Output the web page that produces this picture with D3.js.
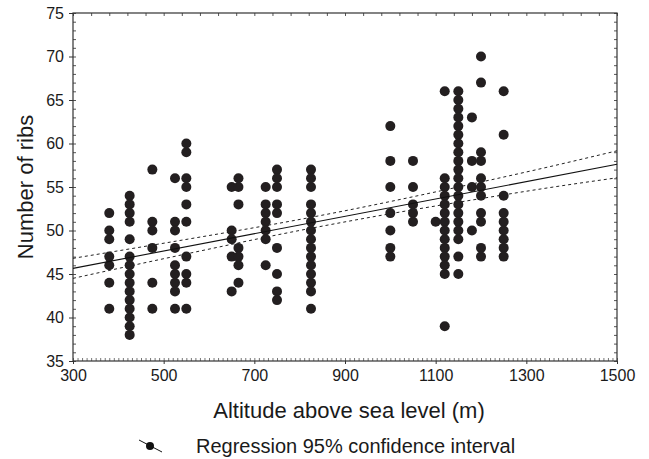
<!DOCTYPE html>
<html>
<head>
<meta charset="utf-8">
<script src="https://cdn.jsdelivr.net/npm/d3@7"></script>
<style>
  body { margin: 0; background: #fff; }
  text { font-family: "Liberation Sans", Arial, sans-serif; fill: #1a1a1a; }
</style>
</head>
<body>
<svg id="chart"></svg>
<script>
// altitude of each sampling site (m) and the rib counts observed there
var altitudes = [380, 425, 475, 525, 550, 650, 665, 725, 750, 825, 1000, 1050, 1100, 1120, 1150, 1180, 1200, 1250];
var ribs = [
    [52, 50, 49, 47, 46, 44, 41],
    [54, 53, 52, 51, 49, 47, 46, 45, 44, 43, 42, 41, 40, 39, 38],
    [57, 51, 50, 48, 44, 41],
    [56, 51, 50, 48, 46, 45, 44, 43, 41],
    [60, 59, 56, 55, 53, 51, 47, 45, 44, 41],
    [55, 50, 49, 47, 43],
    [56, 55, 53, 48, 47, 46, 44],
    [55, 53, 52, 51, 50, 49, 46],
    [57, 56, 55, 53, 52, 48, 45, 43, 42],
    [57, 56, 55, 53, 52, 51, 50, 49, 48, 47, 46, 45, 44, 43, 41],
    [62, 58, 55, 52, 50, 48, 47],
    [58, 55, 53, 52, 51],
    [51],
    [66, 56, 55, 54, 53, 52, 51, 50, 49, 48, 47, 46, 45, 39],
    [66, 65, 64, 63, 62, 61, 60, 59, 58, 57, 56, 55, 54, 53, 52, 51, 50, 49, 47, 45],
    [63, 58, 55, 50],
    [70, 67, 59, 58, 56, 55, 54, 52, 51, 48, 47],
    [66, 61, 54, 52, 51, 50, 49, 48, 47]
];

// regression line and its 95% confidence band
var fitX = [300, 1500];
var fitY = [45.65, 57.61];
var bandX = [300, 450, 600, 750, 900, 1050, 1200, 1350, 1500];
var bandUpper = [46.80, 48.10, 49.42, 50.79, 52.27, 53.88, 55.57, 57.32, 59.16];
var bandLower = [44.50, 46.20, 47.86, 49.49, 50.99, 52.38, 53.67, 54.92, 56.06];

var xTicks = [300, 500, 700, 900, 1100, 1300, 1500];
var yTicks = [35, 40, 45, 50, 55, 60, 65, 70, 75];

var W = 649, H = 459;
var margin = {top: 13, right: 32, bottom: 98, left: 73},
    width = W - margin.left - margin.right,
    height = H - margin.top - margin.bottom;

var svg = d3.select("#chart")
    .attr("width", W)
    .attr("height", H);

var g = svg.append("g")
    .attr("transform", "translate(" + margin.left + "," + margin.top + ")");

var x = d3.scaleLinear().domain([300, 1500]).range([0, width]);
var y = d3.scaleLinear().domain([35, 75]).range([height, 0]);

// minor ticks on all four sides (inward)
g.append("g")
    .attr("transform", "translate(0," + height + ")")
    .call(d3.axisTop(x).tickValues(d3.range(300, 1501, 10)).tickSize(3).tickFormat(""))
    .call(function(a) { a.select(".domain").remove(); a.selectAll("line").attr("stroke", "#777"); });
g.append("g")
    .call(d3.axisBottom(x).tickValues(d3.range(300, 1501, 40)).tickSize(3).tickFormat(""))
    .call(function(a) { a.select(".domain").remove(); a.selectAll("line").attr("stroke", "#555"); });
g.append("g")
    .call(d3.axisRight(y).tickValues(d3.range(35, 76, 1)).tickSize(3).tickFormat(""))
    .call(function(a) { a.select(".domain").remove(); a.selectAll("line").attr("stroke", "#555"); });
g.append("g")
    .attr("transform", "translate(" + width + ",0)")
    .call(d3.axisLeft(y).tickValues(d3.range(35, 76, 1)).tickSize(3).tickFormat(""))
    .call(function(a) { a.select(".domain").remove(); a.selectAll("line").attr("stroke", "#555"); });

// main axes with labels
var xAxis = g.append("g")
    .attr("transform", "translate(0," + height + ")")
    .call(d3.axisBottom(x).tickValues(xTicks).tickSize(3).tickPadding(6).tickFormat(d3.format("d")));
var yAxis = g.append("g")
    .call(d3.axisLeft(y).tickValues(yTicks).tickSize(4).tickPadding(5).tickFormat(d3.format("d")));
[xAxis, yAxis].forEach(function(a) {
    a.select(".domain").remove();
    a.selectAll("line").attr("stroke", "#333");
    a.selectAll("text").style("font-size", "16px").attr("fill", "#1a1a1a");
});

// frame
g.append("rect")
    .attr("width", width)
    .attr("height", height)
    .attr("fill", "none")
    .attr("stroke", "#333")
    .attr("stroke-width", 1.2);

// points
var points = [];
altitudes.forEach(function(a, i) {
    ribs[i].forEach(function(r) { points.push({alt: a, ribs: r}); });
});
g.selectAll("circle.pt")
    .data(points)
    .enter().append("circle")
    .attr("class", "pt")
    .attr("cx", function(d) { return x(d.alt); })
    .attr("cy", function(d) { return y(d.ribs); })
    .attr("r", 5)
    .attr("fill", "#231f20");

// regression line + confidence band
g.append("path")
    .datum(fitX.map(function(v, i) { return [v, fitY[i]]; }))
    .attr("fill", "none")
    .attr("stroke", "#111")
    .attr("stroke-width", 1.1)
    .attr("d", d3.line().x(function(d) { return x(d[0]); }).y(function(d) { return y(d[1]); }));

var bandLine = d3.line()
    .curve(d3.curveNatural)
    .x(function(d) { return x(d[0]); })
    .y(function(d) { return y(d[1]); });
[bandUpper, bandLower].forEach(function(arr) {
    g.append("path")
        .datum(bandX.map(function(v, i) { return [v, arr[i]]; }))
        .attr("fill", "none")
        .attr("stroke", "#222")
        .attr("stroke-width", 1)
        .attr("stroke-dasharray", "3,3")
        .attr("d", bandLine);
});

// axis titles
svg.append("text")
    .attr("x", margin.left + width / 2 + 4)
    .attr("y", 418)
    .attr("text-anchor", "middle")
    .style("font-size", "22px")
    .text("Altitude above sea level (m)");
svg.append("text")
    .attr("transform", "translate(33," + (margin.top + height / 2) + ") rotate(-90)")
    .attr("text-anchor", "middle")
    .style("font-size", "22px")
    .text("Number of ribs");

// legend
var leg = svg.append("g");
leg.append("line")
    .attr("x1", 139).attr("y1", 440)
    .attr("x2", 162).attr("y2", 452)
    .attr("stroke", "#111").attr("stroke-width", 1);
leg.append("circle")
    .attr("cx", 150).attr("cy", 446).attr("r", 4)
    .attr("fill", "#111");
leg.append("text")
    .attr("x", 196)
    .attr("y", 453)
    .style("font-size", "20px")
    .text("Regression 95% confidence interval");
</script>
</body>
</html>
